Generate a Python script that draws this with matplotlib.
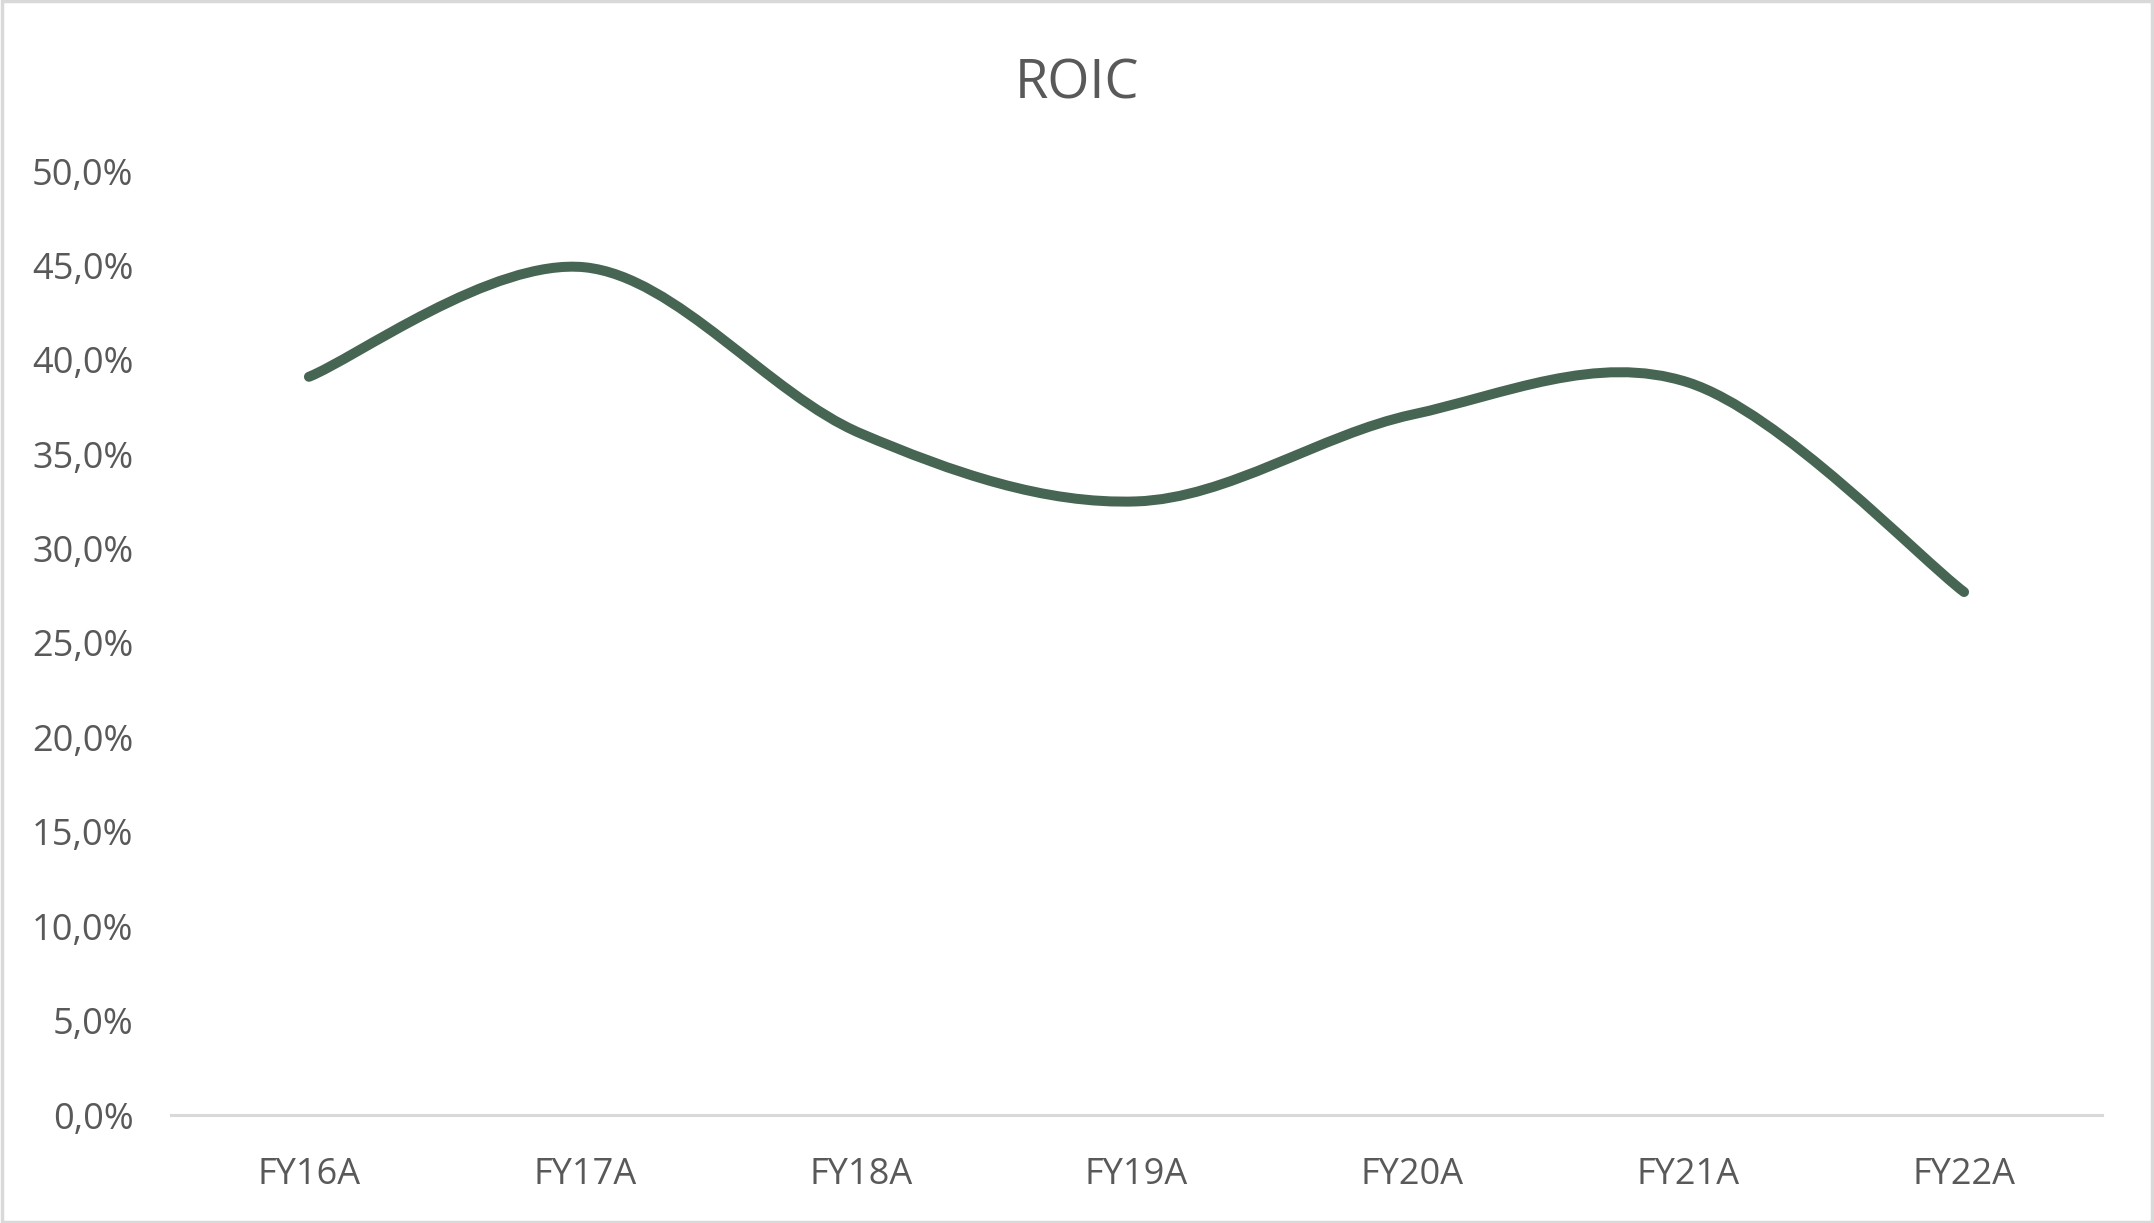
import matplotlib
matplotlib.use("Agg")
import matplotlib.pyplot as plt
from matplotlib.path import Path
from matplotlib.patches import PathPatch, Rectangle
from matplotlib.ticker import FuncFormatter, MultipleLocator
import numpy as np

categories = ["FY16A", "FY17A", "FY18A", "FY19A", "FY20A", "FY21A", "FY22A"]
roic = [0.391, 0.449, 0.361, 0.325, 0.371, 0.388, 0.277]
title = "ROIC"

plt.rcParams['font.family'] = ['Open Sans', 'DejaVu Sans']
GREY = "#595959"
LINE = "#476553"

fig = plt.figure(figsize=(21.54, 12.23), dpi=100)
ax = fig.add_axes([171/2154, 1 - 1115/1223, (2102-171)/2154, (1115-171)/1223])

# Smoothed line (Excel-style Catmull-Rom bezier) through data points
x = np.arange(len(categories), dtype=float)
y = np.array(roic)
pts = np.column_stack([x, y])
ext = np.vstack([pts[0], pts, pts[-1]])
verts = [tuple(pts[0])]
codes = [Path.MOVETO]
for i in range(len(pts) - 1):
    p0, p1, p2, p3 = ext[i], ext[i+1], ext[i+2], ext[i+3]
    c1 = p1 + (p2 - p0) / 6.0
    c2 = p2 - (p3 - p1) / 6.0
    verts += [tuple(c1), tuple(c2), tuple(p2)]
    codes += [Path.CURVE4] * 3
patch = PathPatch(Path(verts, codes), facecolor="none", edgecolor=LINE,
                  lw=7.2, capstyle="round", joinstyle="round", zorder=3)
ax.add_patch(patch)

ax.set_xlim(-0.5, len(categories) - 0.5)
ax.set_ylim(0, 0.5)
ax.set_xticks(x)
ax.set_xticklabels(categories)
ax.yaxis.set_major_locator(MultipleLocator(0.05))
ax.yaxis.set_major_formatter(FuncFormatter(lambda v, p: f"{v*100:.1f}%".replace(".", ",")))

for s in ["top", "right", "left"]:
    ax.spines[s].set_visible(False)
ax.spines["bottom"].set_color("#d9d9d9")
ax.spines["bottom"].set_linewidth(2.2)
ax.tick_params(axis="both", length=0, labelsize=26, colors=GREY)
ax.tick_params(axis="y", pad=27)
ax.tick_params(axis="x", pad=30)

fig.text(0.5, 1 - 84/1223, title, ha="center", va="center", fontsize=39, color=GREY)

fig.patches.append(Rectangle((0.0008, 0.0012), 0.9984, 0.9976, transform=fig.transFigure,
                             fill=False, edgecolor="#d9d9d9", lw=2.5))

fig.savefig("out.png", dpi=100, facecolor="white")
